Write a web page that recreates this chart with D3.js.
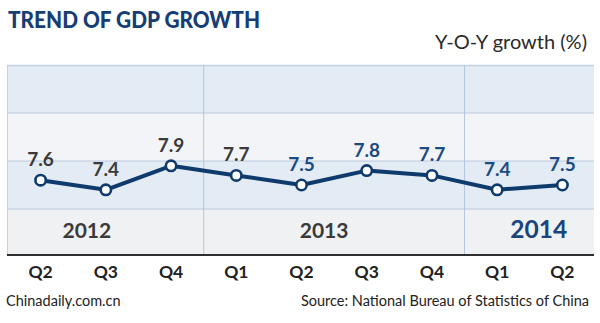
<!DOCTYPE html>
<html><head><meta charset="utf-8">
<script src="https://cdn.jsdelivr.net/npm/d3@7"></script>
<style>html,body{margin:0;padding:0;background:#fff;}svg{display:block;}</style>
</head><body>
<script>
const quarters = ["Q2","Q3","Q4","Q1","Q2","Q3","Q4","Q1","Q2"];
const years = ["2012","2012","2012","2013","2013","2013","2013","2014","2014"];
const growth = [7.6, 7.4, 7.9, 7.7, 7.5, 7.8, 7.7, 7.4, 7.5];
const gridValues = [7, 8, 9];
const yearLabels = ["2012","2013","2014"];

(function(){
const W = 600, H = 323;
const svg = d3.select("body").append("svg").attr("width", W).attr("height", H);
const font = "Lato, 'Open Sans', sans-serif";

const pLeft = 7, pRight = 594, pTop = 65, pBottom = 255;
const x = d3.scaleBand().domain(d3.range(growth.length)).range([pLeft + 1, pRight + 1]);
const cx = i => x(i) + x.bandwidth()/2;
const y = d3.scaleLinear().domain([6, 10]).range([257, 65]);

// bands
const bandEdges = [10, 9, 8, 7, 6];
const bandColors = ["#e3ebf5", "#f2f4f7", "#e3ebf5", "#f0f1f3"];
bandColors.forEach((c, i) => {
  const y0 = Math.max(y(bandEdges[i]), pTop), y1 = Math.min(y(bandEdges[i+1]), pBottom);
  svg.append("rect").attr("x", pLeft).attr("y", y0).attr("width", pRight-pLeft).attr("height", y1-y0).attr("fill", c);
});
// gridlines
svg.selectAll("line.grid").data(gridValues).enter().append("line")
  .attr("x1", pLeft).attr("x2", pRight).attr("y1", d => y(d)).attr("y2", d => y(d))
  .attr("stroke", "#b9cade").attr("stroke-width", 1.2);
// top border & left border
svg.append("line").attr("x1", pLeft).attr("x2", pRight).attr("y1", pTop+0.5).attr("y2", pTop+0.5).attr("stroke", "#c3d3e4").attr("stroke-width", 1.5);
svg.append("line").attr("x1", pLeft+0.5).attr("x2", pLeft+0.5).attr("y1", pTop).attr("y2", pBottom).attr("stroke", "#c3d3e4").attr("stroke-width", 1);

// year separators
const sepIdx = [];
for (let i = 1; i < years.length; i++) if (years[i] !== years[i-1]) sepIdx.push(i);
svg.selectAll("line.sep").data(sepIdx).enter().append("line")
  .attr("x1", d => x(d)).attr("x2", d => x(d)).attr("y1", pTop).attr("y2", pBottom)
  .attr("stroke", "#b3c6dc").attr("stroke-width", 1);

// axis
svg.append("line").attr("x1", pLeft).attr("x2", pRight).attr("y1", pBottom).attr("y2", pBottom)
  .attr("stroke", "#2e2e2e").attr("stroke-width", 2);

// year labels
const yearOffsets = {"2012": -19, "2013": -10, "2014": 9};
yearLabels.forEach(yr => {
  const idx = years.map((v,i)=>v===yr?i:-1).filter(i=>i>=0);
  const x0 = x(idx[0]), x1 = x(idx[idx.length-1]) + x.bandwidth();
  const is2014 = yr === "2014";
  svg.append("text").attr("x", (x0+x1)/2 + yearOffsets[yr]).attr("y", 238)
    .attr("text-anchor", "middle").attr("font-family", font).attr("font-weight", 700)
    .attr("font-size", is2014 ? 24.5 : 21).attr("fill", is2014 ? "#17457c" : "#3a3a3a").text(yr);
});

// line
const line = d3.line().x((d,i) => cx(i)).y(d => y(d));
svg.append("path").datum(growth).attr("d", line).attr("fill", "none")
  .attr("stroke", "#0f3a6c").attr("stroke-width", 4).attr("stroke-linejoin", "round");
svg.selectAll("circle.pt").data(growth).enter().append("circle")
  .attr("cx", (d,i) => cx(i)).attr("cy", d => y(d)).attr("r", 5.2)
  .attr("fill", "#fff").attr("stroke", "#0f3a6c").attr("stroke-width", 2.6);

// value labels
svg.selectAll("text.val").data(growth).enter().append("text")
  .attr("x", (d,i) => cx(i)).attr("y", d => y(d) - 14)
  .attr("text-anchor", "middle").attr("font-family", font).attr("font-weight", 700)
  .attr("font-size", 19).attr("fill", (d,i) => i >= 4 ? "#1c4a82" : "#3a3a3a")
  .text(d => d.toFixed(1));

// quarter labels
svg.selectAll("text.q").data(quarters).enter().append("text")
  .attr("x", (d,i) => cx(i)).attr("y", 278)
  .attr("text-anchor", "middle").attr("font-family", font).attr("font-weight", 700)
  .attr("font-size", 17.5).attr("fill", "#222").text(d => d);

// title
svg.append("text").attr("x", 8).attr("y", 28).attr("font-family", font).attr("font-weight", 900)
  .attr("font-size", 22).attr("fill", "#163d74").attr("textLength", 252).attr("lengthAdjust", "spacingAndGlyphs")
  .text("TREND OF GDP GROWTH");
svg.append("text").attr("x", 587).attr("y", 49).attr("text-anchor", "end").attr("font-family", font)
  .attr("font-size", 20).attr("fill", "#2a2a2a").text("Y-O-Y growth (%)");

// footer
svg.append("text").attr("x", 6).attr("y", 306).attr("font-family", font)
  .attr("font-size", 14.5).attr("fill", "#222").text("Chinadaily.com.cn");
svg.append("text").attr("x", 589).attr("y", 306).attr("text-anchor", "end").attr("font-family", font)
  .attr("font-size", 14.5).attr("fill", "#222").text("Source: National Bureau of Statistics of China");
})();
</script>
</body></html>
